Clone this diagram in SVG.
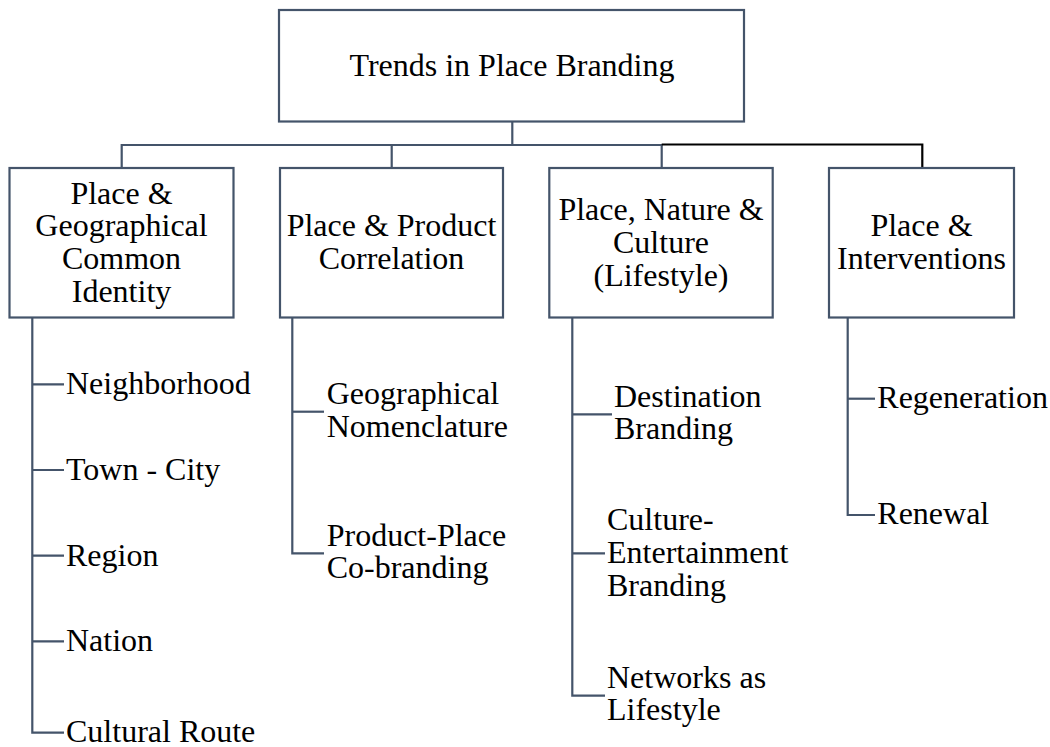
<svg xmlns="http://www.w3.org/2000/svg" width="1050" height="747" viewBox="0 0 1050 747">
  <style>
    .box { fill: #ffffff; stroke: #44546a; stroke-width: 2.2; }
    .line { fill: none; stroke: #44546a; stroke-width: 2.2; }
    .dark { fill: none; stroke: #000000; stroke-width: 2.2; }
    text { font-family: "Liberation Serif", "Times New Roman", serif; font-size: 32px; fill: #000000; }
    .c { text-anchor: middle; }
  </style>
  <rect width="1050" height="747" fill="#ffffff"/>

  <!-- connectors -->
  <g id="connectors">
    <!-- root to branch bar -->
    <path class="line" d="M512.3 121.5 V145"/>
    <path class="line" d="M121.7 168 V145 H662"/>
    <path class="line" d="M391.7 145 V168"/>
    <path class="line" d="M661.7 145 V168"/>
    <path class="dark" d="M661.7 144.5 H922.3 V168"/>

    <!-- Place & Geographical Common Identity -->
    <path class="line" d="M32.3 318 V732.7 H64"/>
    <path class="line" d="M32.3 384.3 H64 M32.3 470 H64 M32.3 555.7 H64 M32.3 641.3 H64"/>

    <!-- Place & Product Correlation -->
    <path class="line" d="M292.3 318 V553.3 H324"/>
    <path class="line" d="M292.3 411.7 H324"/>

    <!-- Place, Nature & Culture -->
    <path class="line" d="M572.3 318 V695.7 H605"/>
    <path class="line" d="M572.3 414.3 H612 M572.3 553.3 H605"/>

    <!-- Place & Interventions -->
    <path class="line" d="M847.7 318 V515 H875"/>
    <path class="line" d="M847.7 398.7 H875"/>
  </g>

  <!-- root -->
  <g id="root">
    <rect class="box" x="279" y="10" width="465" height="111.5"/>
    <text class="c" x="512" y="76">Trends in Place Branding</text>
  </g>

  <!-- categories -->
  <g id="geo-identity">
    <rect class="box" x="9.5" y="168" width="224" height="149.5"/>
    <text class="c" x="121.5" y="203.5">Place &amp;</text>
    <text class="c" x="121.5" y="236.3">Geographical</text>
    <text class="c" x="121.5" y="269.1">Common</text>
    <text class="c" x="121.5" y="301.9">Identity</text>
  </g>

  <g id="product-correlation">
    <rect class="box" x="280" y="168" width="223" height="149.5"/>
    <text class="c" x="391.5" y="236.3">Place &amp; Product</text>
    <text class="c" x="391.5" y="269.1">Correlation</text>
  </g>

  <g id="nature-culture">
    <rect class="box" x="549.3" y="168" width="223.4" height="149.5"/>
    <text class="c" x="661" y="219.9">Place, Nature &amp;</text>
    <text class="c" x="661" y="252.7">Culture</text>
    <text class="c" x="661" y="285.5">(Lifestyle)</text>
  </g>

  <g id="interventions">
    <rect class="box" x="829" y="168" width="185" height="149.5"/>
    <text class="c" x="921.5" y="236.3">Place &amp;</text>
    <text class="c" x="921.5" y="269.1">Interventions</text>
  </g>

  <!-- leaf items -->
  <g id="neighborhood"><text x="66" y="394">Neighborhood</text></g>
  <g id="town-city"><text x="66" y="480">Town - City</text></g>
  <g id="region"><text x="66" y="565.7">Region</text></g>
  <g id="nation"><text x="66" y="651">Nation</text></g>
  <g id="cultural-route"><text x="66" y="742">Cultural Route</text></g>

  <g id="nomenclature">
    <text x="326.7" y="404">Geographical</text>
    <text x="326.7" y="436.7">Nomenclature</text>
  </g>
  <g id="co-branding">
    <text x="326.7" y="546">Product-Place</text>
    <text x="326.7" y="578.3">Co-branding</text>
  </g>

  <g id="destination">
    <text x="614" y="406.7">Destination</text>
    <text x="614" y="439">Branding</text>
  </g>
  <g id="culture-entertainment">
    <text x="607" y="530">Culture-</text>
    <text x="607" y="563">Entertainment</text>
    <text x="607" y="596">Branding</text>
  </g>
  <g id="networks">
    <text x="607" y="687.7">Networks as</text>
    <text x="607" y="720.3">Lifestyle</text>
  </g>

  <g id="regeneration"><text x="877.3" y="408.3">Regeneration</text></g>
  <g id="renewal"><text x="877.3" y="524.3">Renewal</text></g>
</svg>
